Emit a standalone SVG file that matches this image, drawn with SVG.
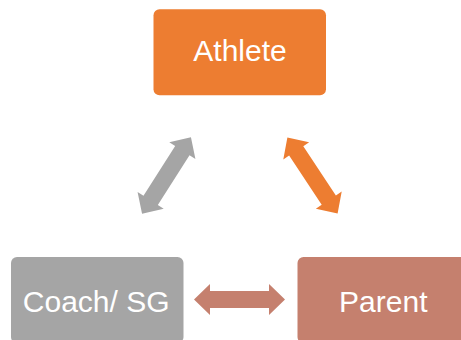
<svg xmlns="http://www.w3.org/2000/svg" width="461" height="340" viewBox="0 0 461 340">
<defs>
<style>
.lbl{font-family:"Liberation Sans",Arial,sans-serif;font-size:30px;fill:#FFFFFF;text-anchor:middle}
</style>
<path id="dbl" d="M -45.5 0 L -29.5 -15.5 L -29.5 -8.5 L 29.5 -8.5 L 29.5 -15.5 L 45.5 0 L 29.5 15.5 L 29.5 8.5 L -29.5 8.5 L -29.5 15.5 Z"/>
</defs>
<rect width="461" height="340" fill="#FFFFFF"/>
<g id="connectors">
<use href="#dbl" fill="#A5A5A5" transform="translate(166.5,175.5) rotate(-57.5)"/>
<use href="#dbl" fill="#ED7D31" transform="translate(312.5,175.5) rotate(56.5)"/>
<use href="#dbl" fill="#C5806E" transform="translate(239.5,299.5)"/>
</g>
<g id="athlete">
<rect x="153.5" y="9.3" width="172.5" height="86" rx="6" fill="#ED7D31"/>
<text class="lbl" x="240" y="60.5">Athlete</text>
</g>
<g id="coach">
<rect x="11" y="257" width="172.5" height="86" rx="6" fill="#A5A5A5"/>
<text class="lbl" x="96.2" y="311.5">Coach/ SG</text>
</g>
<g id="parent">
<rect x="297.5" y="257" width="172.5" height="86" rx="6" fill="#C5806E"/>
<text class="lbl" x="383.3" y="311.5">Parent</text>
</g>
</svg>
